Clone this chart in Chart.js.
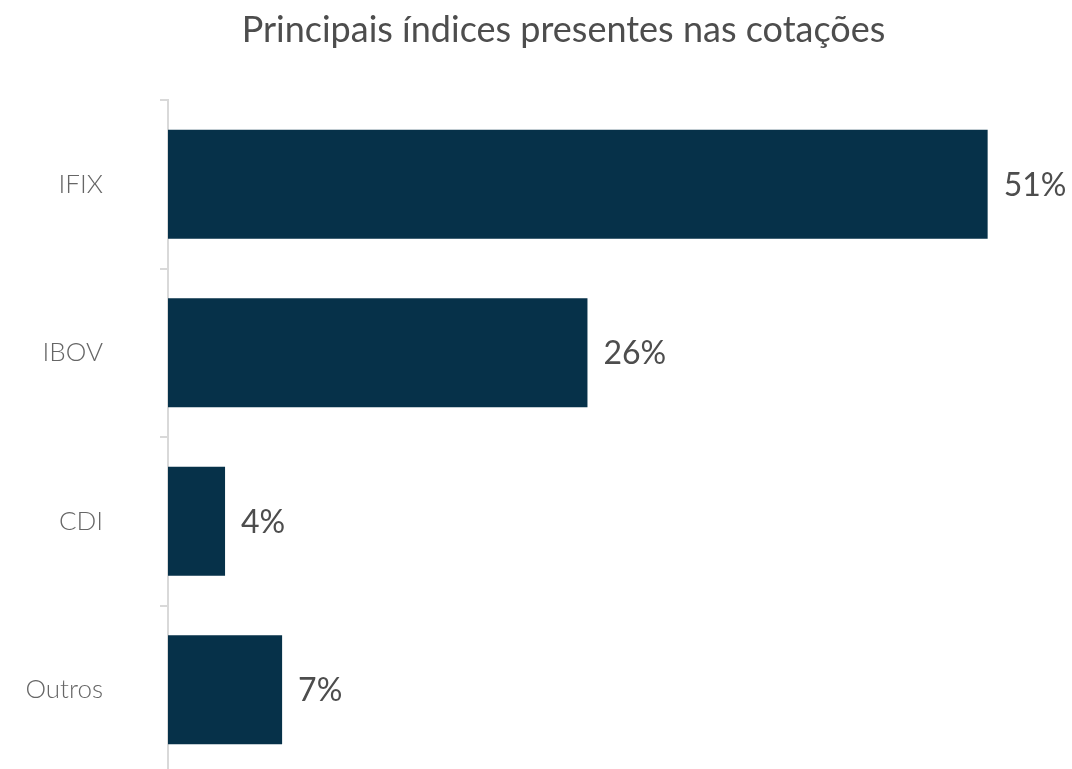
<!DOCTYPE html>
<html>
<head>
<meta charset="utf-8">
<script src="https://cdn.jsdelivr.net/npm/chart.js@4/dist/chart.umd.min.js"></script>
<style>
  html, body { margin: 0; padding: 0; background: #fff; overflow: hidden; }
  canvas { display: block; }
</style>
</head>
<body>
<canvas id="chart" width="1072" height="775"></canvas>
<script>
const chartTitle = "Principais índices presentes nas cotações";
const categories = ["IFIX", "IBOV", "CDI", "Outros"];
const shares = [51.0, 26.1, 3.55, 7.1];
const shareLabels = ["51%", "26%", "4%", "7%"];

// titulo centrado um pouco a direita do centro da figura
const titlePlugin = {
  id: "topTitle",
  afterDraw(chart) {
    const ctx = chart.ctx;
    ctx.save();
    ctx.font = "400 36px Lato";
    ctx.fillStyle = "#4d4d4d";
    ctx.textAlign = "center";
    ctx.textBaseline = "alphabetic";
    ctx.fillText(chartTitle, 563.5, 42);
    ctx.restore();
  }
};

// escreve o valor ao lado de cada barra
const valueLabels = {
  id: "valueLabels",
  afterDatasetsDraw(chart) {
    const ctx = chart.ctx;
    const meta = chart.getDatasetMeta(0);
    ctx.save();
    ctx.font = "400 32px Lato";
    ctx.fillStyle = "#4d4d4d";
    ctx.textAlign = "left";
    ctx.textBaseline = "middle";
    meta.data.forEach((bar, i) => {
      ctx.fillText(shareLabels[i], bar.x + 16, bar.y + 1);
    });
    ctx.restore();
  }
};

new Chart(document.getElementById("chart"), {
  type: "bar",
  data: {
    labels: categories,
    datasets: [{
      data: shares,
      backgroundColor: "#063149",
      borderWidth: 0,
      categoryPercentage: 1,
      barPercentage: 0.647
    }]
  },
  options: {
    indexAxis: "y",
    responsive: false,
    maintainAspectRatio: false,
    animation: false,
    layout: { padding: { left: 0, right: 4, top: 100, bottom: 1 } },
    plugins: {
      legend: { display: false },
      tooltip: { enabled: false },
      title: { display: false }
    },
    scales: {
      x: {
        display: false,
        min: 0,
        max: 56
      },
      y: {
        afterFit(scale) {
          scale.width = 168;
          // o padding dos ticks nao deve encolher a area vertical
          scale.paddingTop = 0;
          scale.paddingBottom = 0;
        },
        border: { display: true, color: "#d9d9d9", width: 2 },
        grid: {
          offset: true,
          drawOnChartArea: false,
          drawTicks: true,
          tickLength: 8,
          color: "#d9d9d9",
          lineWidth: 2
        },
        ticks: {
          padding: 57,
          color: "#666666",
          font: { family: "Lato", size: 26, weight: "300" }
        }
      }
    }
  },
  plugins: [valueLabels, titlePlugin]
});
</script>
</body>
</html>
